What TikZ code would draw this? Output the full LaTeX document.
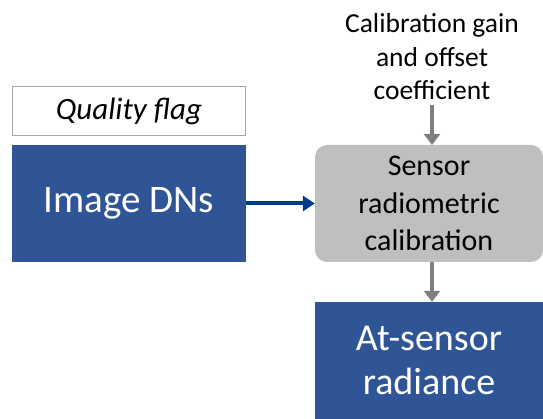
\documentclass[tikz,border=0pt]{standalone}
\usepackage{fontspec}
\setmainfont{Carlito}
\usetikzlibrary{arrows.meta}
\definecolor{boxblue}{HTML}{2F5597}
\definecolor{arrblue}{HTML}{003A8C}
\definecolor{boxgray}{HTML}{BFBFBF}
\definecolor{arrgray}{HTML}{7F7F7F}
\definecolor{flaggray}{HTML}{A6A6A6}
\tikzset{
  bluebox/.style={fill=boxblue, draw=none, text=white, align=center, inner sep=0pt},
  graybox/.style={fill=boxgray, draw=none, rounded corners=12pt, align=center, inner sep=0pt},
  flagbox/.style={draw=flaggray, line width=1.5pt, fill=white, inner sep=0pt},
  grayarrow/.style={draw=arrgray, line width=4pt, -{Triangle[length=11pt,width=16pt]}},
  bluearrow/.style={draw=arrblue, line width=4pt, -{Triangle[length=12pt,width=15pt]}},
}
\begin{document}
\begin{tikzpicture}[x=1pt,y=-1pt]
\useasboundingbox (0,0) rectangle (543,419);
\node[flagbox, minimum width=233pt, minimum height=49pt, font=\fontsize{31}{34}\selectfont\itshape] (flag) at (129,111)
  {Quality flag};
\node[bluebox, minimum width=234pt, minimum height=117pt, font=\fontsize{39}{44}\selectfont] (img) at (129,203.5)
  {Image DNs};
\node[graybox, minimum width=228pt, minimum height=117pt, font=\fontsize{30}{37.5}\selectfont] (cal) at (429,203.5)
  {Sensor\\radiometric\\calibration};
\node[bluebox, minimum width=228pt, minimum height=117pt, font=\fontsize{38}{44}\selectfont] (rad) at (429,360.5)
  {At-sensor\\radiance};
\node[align=center, inner sep=0pt, font=\fontsize{27.5}{33.5}\selectfont] (coef) at (432,57)
  {Calibration gain\\and offset\\coefficient};
\draw[bluearrow] (img.east) -- (cal.west);
\draw[grayarrow] (432,105) -- (432,145);
\draw[grayarrow] (cal.south -| 432,0) -- (rad.north -| 432,0);
\end{tikzpicture}
\end{document}
